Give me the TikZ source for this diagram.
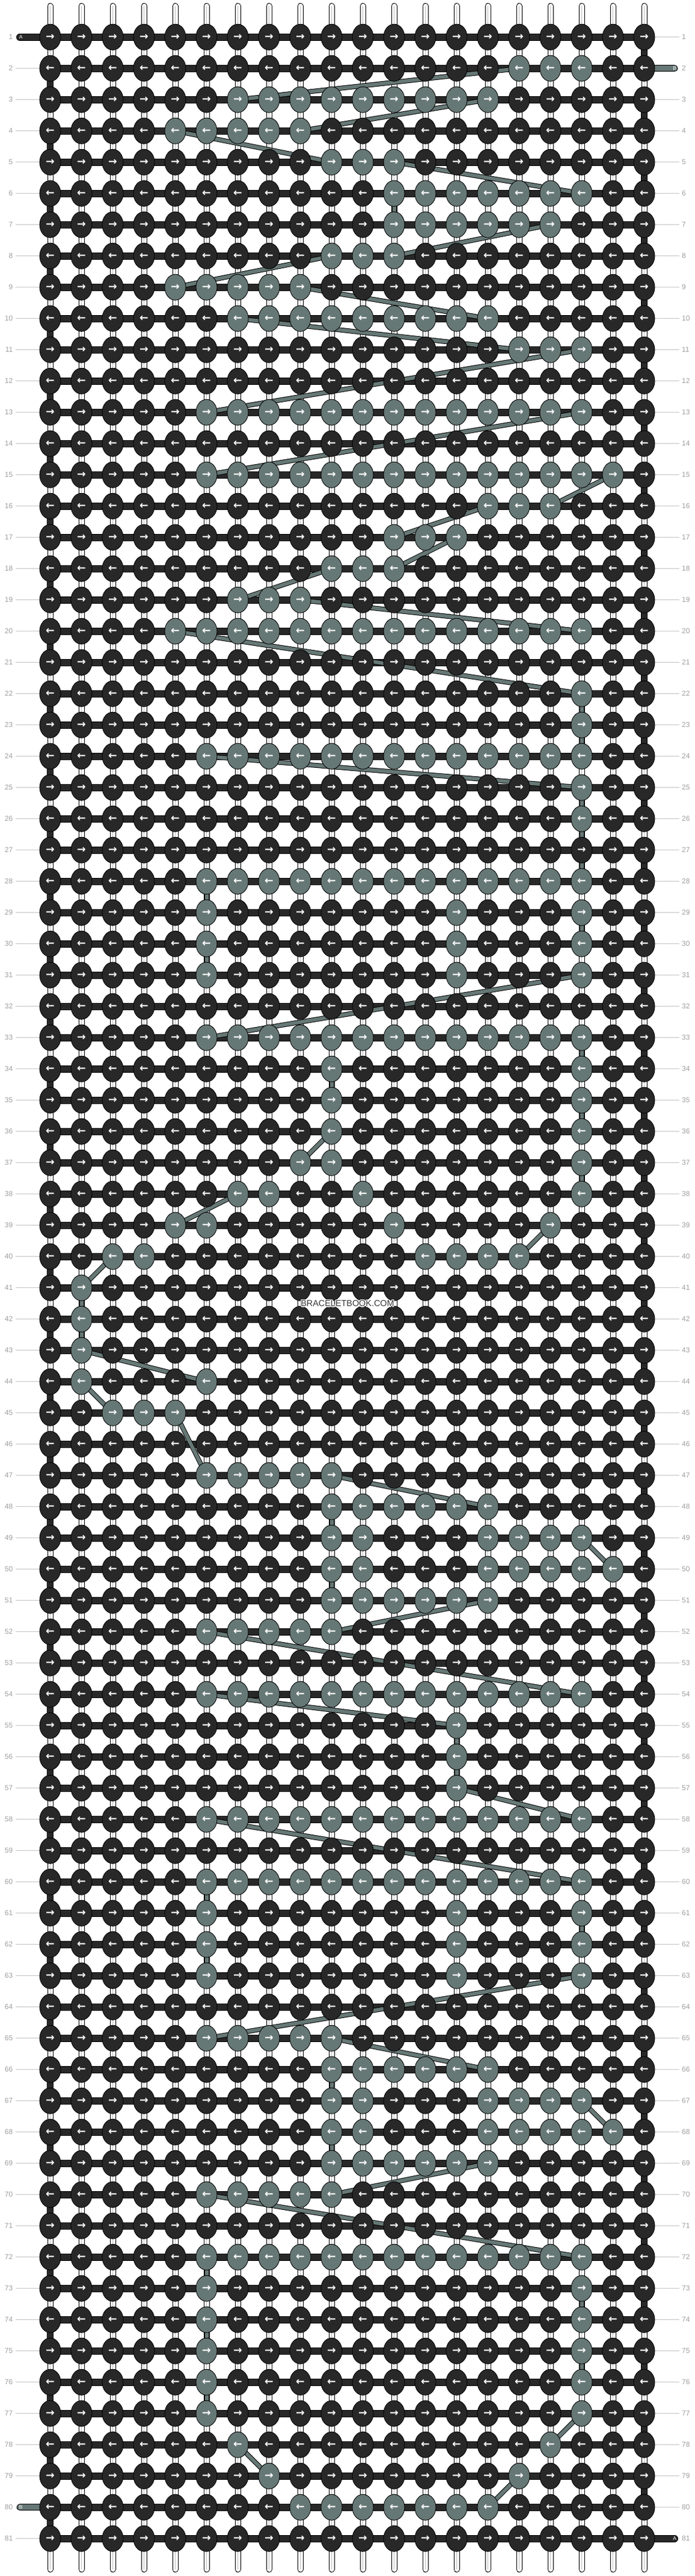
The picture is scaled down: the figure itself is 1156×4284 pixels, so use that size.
\documentclass[tikz,border=0pt]{standalone}
\usepackage{fontspec}
\setmainfont{Liberation Sans}
\newfontfamily\arrowfont{DejaVu Sans}
\usetikzlibrary{shapes.geometric}
\definecolor{kdark}{HTML}{282828}
\definecolor{kgrey}{HTML}{667875}
\definecolor{labgrey}{HTML}{A0A0A0}
\definecolor{lineg}{HTML}{C4C4C4}
\definecolor{strline}{HTML}{BDBDBD}
\definecolor{wmdark}{HTML}{383838}
\pgfdeclarelayer{paper}
\pgfdeclarelayer{strings}
\pgfdeclarelayer{threadA}
\pgfdeclarelayer{threadB}
\pgfsetlayers{paper,strings,threadA,threadB,main}
\newcommand\greyrows{2/{16,...,18},3/{7,...,15},4/{5,...,9},5/{10,...,12},6/{12,...,18},7/{12,...,17},8/{10,...,12},9/{5,...,9},10/{7,...,15},11/{16,...,18},
13/{6,...,18},15/{6,...,19},16/{15,...,17},17/{12,...,14},18/{10,...,12},19/{7,...,9},20/{5,...,18},
22/{18},23/{18},24/{6,...,18},25/{18},26/{18},28/{6,...,18},29/{6,14,18},30/{6,14,18},31/{6,14,18},
33/{6,...,18},34/{10,18},35/{10,18},36/{10,18},37/{9,10,18},38/{7,8,11,18},39/{5,6,12,17},40/{3,4,13,14,15,16},
41/{2},42/{2},43/{2},44/{2,6},45/{3,4,5},47/{6,...,10},48/{10,...,15},49/{10,11,15,16,17,18},50/{10,11,15,16,17,18,19},
51/{10,...,15},52/{6,...,10},54/{6,...,18},55/{14},56/{14},57/{14},58/{6,...,18},60/{6,...,18},
61/{6,14,18},62/{6,14,18},63/{6,14,18},65/{6,...,10},66/{10,...,15},67/{10,11,15,16,17,18},68/{10,11,15,16,17,18,19},
69/{10,...,15},70/{6,...,10},72/{6,...,18},73/{6,18},74/{6,18},75/{6,18},76/{6,18},77/{6,18},78/{7,17},79/{8,16},80/{9,...,15}}
\newcommand\bpath{2/16/3/7, 3/15/4/9, 4/5/5/10, 5/12/6/18, 6/12/7/12, 7/17/8/12, 8/10/9/5, 9/9/10/15, 10/7/11/16, 11/18/13/6, 13/18/15/6, 15/19/16/17, 16/15/17/12, 17/14/18/12, 18/10/19/7, 19/9/20/18, 20/5/22/18, 22/18/23/18, 23/18/24/18, 24/6/25/18, 25/18/26/18, 26/18/28/18, 28/6/29/6, 29/18/30/18, 30/6/31/6, 31/18/33/6, 33/18/34/18, 34/10/35/10, 35/18/36/18, 36/10/37/9, 37/18/38/18, 38/7/39/5, 39/17/40/16, 40/3/41/2, 41/2/42/2, 42/2/43/2, 43/2/44/6, 44/2/45/3, 45/5/47/6, 47/10/48/15, 48/10/49/10, 49/18/50/19, 50/10/51/10, 51/15/52/10, 52/6/54/18, 54/6/55/14, 55/14/56/14, 56/14/57/14, 57/14/58/18, 58/6/60/18, 60/6/61/6, 61/18/62/18, 62/6/63/6, 63/18/65/6, 65/10/66/15, 66/10/67/10, 67/18/68/19, 68/10/69/10, 69/15/70/10, 70/6/72/18, 72/6/73/6, 73/18/74/18, 74/6/75/6, 75/18/76/18, 76/6/77/6, 77/18/78/17, 78/7/79/8, 79/16/80/15}
\newcommand\halo[1]{\setbox0=\hbox{#1}{\color{white}%
\rlap{\kern-1pt\raise1pt\copy0}\rlap{\kern1pt\raise1pt\copy0}%
\rlap{\kern-1pt\lower1pt\copy0}\rlap{\kern1pt\lower1pt\copy0}%
\rlap{\kern-1.3pt\copy0}\rlap{\kern1.3pt\copy0}%
\rlap{\raise1.3pt\copy0}\rlap{\lower1.3pt\copy0}}\copy0}
\begin{document}
\begin{tikzpicture}[x=1pt,y=-1pt,
  knot/.style={ellipse, draw=black, line width=0.9pt, minimum width=35pt, minimum height=43pt, inner sep=0pt, text=white, font=\arrowfont\bfseries\fontsize{17.5}{17.5}\selectfont},
  athread/.style={kdark, line width=9.9pt, line cap=round, preaction={draw=black, line width=11.9pt, line cap=round}},
  btab/.style={kgrey, line width=9pt, line cap=round, preaction={draw=black, line width=11pt, line cap=round}},
  bthread/.style={kgrey, line width=6pt, preaction={draw=black, line width=8pt}},
  vstring/.style={white, line width=8pt, line cap=round, preaction={draw=black, line width=10pt, line cap=round}, postaction={draw=strline, line width=0.8pt, line cap=butt}},
  lab/.style={font=\fontsize{12}{12}\selectfont, text=labgrey, inner sep=0pt},
  labline/.style={lineg, line width=1pt},
  tabtxt/.style={font=\fontsize{8.5}{8.5}\selectfont, text=white, inner sep=0pt}]
\useasboundingbox (0,0) rectangle (1156,4284);
\begin{pgfonlayer}{paper}
\fill[white] (0,0) rectangle (1156,4284);
\end{pgfonlayer}
% grey flags
\foreach \r/\g in \greyrows {\foreach \c in \g {\expandafter\gdef\csname isg-\r-\c\endcsname{1}}}
% knots
\foreach \r in {1,...,81} {
  \ifodd\r\relax\def\arr{→}\else\def\arr{←}\fi
  \foreach \c in {1,...,20} {
    \ifcsname isg-\r-\c\endcsname\def\kc{kgrey}\else\def\kc{kdark}\fi
    \node[knot, fill=\kc] (k-\r-\c) at ({83.5+(\c-1)*52},{61.7+(\r-1)*52}) {\arr};
  }
}
% vertical strings
\begin{pgfonlayer}{strings}
\foreach \c in {1,...,20} {
  \draw[vstring] ({83.5+(\c-1)*52},10) -- ({83.5+(\c-1)*52},4273);
}
\end{pgfonlayer}
% thread A
\begin{pgfonlayer}{threadA}
\draw[athread] (33,61.7)
  \foreach \r [evaluate=\r as \rn using int(\r+1)] in {1,3,...,79} { -- (k-\r-1.center) -- (k-\r-20.center) -- (k-\rn-20.center) -- (k-\rn-1.center) }
  -- (k-81-1.center) -- (k-81-20.center) -- (1122,4221.7);
\end{pgfonlayer}
% thread B
\begin{pgfonlayer}{threadB}
\draw[btab] (k-2-20.center) -- (1122,113.7);
\draw[btab] (k-80-1.center) -- (33,4169.7);
\foreach \a/\b/\c/\d in \bpath {\draw[bthread] (k-\a-\b.center) -- (k-\c-\d.center);}
\end{pgfonlayer}
% tab letters
\node[tabtxt] (tA1) at (34.8,61.7) {A};
\node[tabtxt] (tB1) at (1122.3,113.7) {B};
\node[tabtxt] (tB2) at (34.8,4169.7) {B};
\node[tabtxt] (tA2) at (1122.3,4221.7) {A};
% row labels
\foreach \r in {1,...,81} {
  \node[lab, anchor=east] (ll-\r) at (21.5,{61.7+(\r-1)*52}) {\r};
  \node[lab, anchor=west] (lr-\r) at (1134,{61.7+(\r-1)*52}) {\r};
  \ifnum\r=1\relax\else\ifnum\r=80\relax\else
    \begin{pgfonlayer}{strings}\draw[labline, shorten <=4.5pt] (ll-\r.east) -- (k-\r-1.center);\end{pgfonlayer}
  \fi\fi
  \ifnum\r=2\relax\else\ifnum\r=81\relax\else
    \begin{pgfonlayer}{strings}\draw[labline, shorten >=4.5pt] (k-\r-20.center) -- (lr-\r.west);\end{pgfonlayer}
  \fi\fi
}
% watermark
\node[font=\fontsize{14.4}{14.4}\selectfont, text=wmdark, inner sep=0pt] (wm) at (578,2168) {\halo{BRACELETBOOK.COM}};
\end{tikzpicture}
\end{document}
